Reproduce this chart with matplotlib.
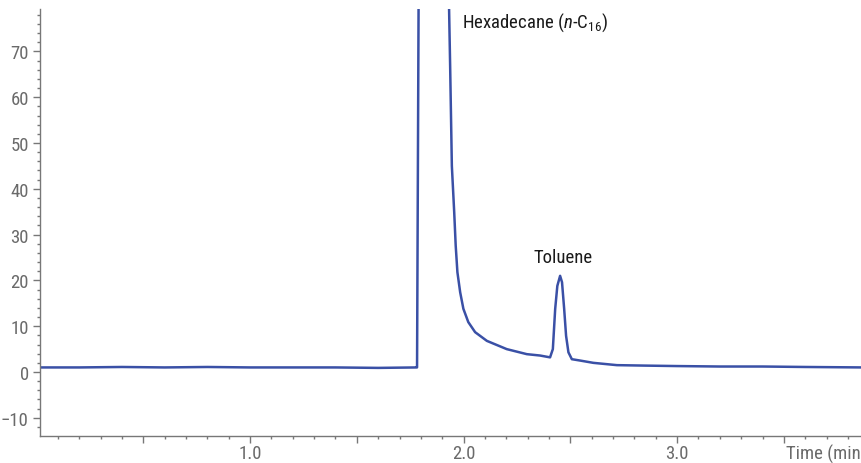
"""
GC chromatogram: hexadecane and toluene
"""

import os
import matplotlib
matplotlib.use('Agg')
import matplotlib.pyplot as plt
from matplotlib import font_manager
from matplotlib.ticker import FixedLocator, MultipleLocator

# values (time in min, response)
time = [0.02, 0.2, 0.4, 0.6, 0.8, 1.0, 1.2, 1.4, 1.6, 1.78,
        1.782, 1.80, 1.92, 1.932, 1.937, 1.945, 1.956, 1.963, 1.971,
        1.984, 1.999, 2.022, 2.054, 2.109, 2.202, 2.296, 2.358, 2.405, 2.418,
        2.429, 2.439, 2.452, 2.461, 2.471, 2.480, 2.491, 2.507, 2.546, 2.608,
        2.718, 2.85, 3.0, 3.2, 3.4, 3.6, 3.87]
signal = [1.0, 1.0, 1.1, 1.0, 1.1, 1.0, 1.0, 1.0, 0.9, 1.0,
          1.0, 200.0, 200.0, 79.3, 66.8, 45.0, 34.9, 27.6, 21.8,
          17.4, 13.8, 10.9, 8.7, 6.8, 5.0, 3.9, 3.6, 3.2, 5.0,
          13.8, 18.8, 21.0, 19.6, 13.8, 7.9, 4.3, 2.8, 2.5, 2.0,
          1.5, 1.4, 1.3, 1.2, 1.2, 1.1, 1.0]

y_ticks = [-10, 0, 10, 20, 30, 40, 50, 60, 70]
x_label_ticks = [1.0, 2.0, 3.0]
x_major = [0.5, 1.0, 1.5, 2.0, 2.5, 3.0, 3.5]

peak_names = ['Hexadecane ($\\it{n}$-C$_{16}$)', 'Toluene']
peak_pos = [(1.993, 76.5), (2.466, 25.1)]

# look for a narrow sans face (the original uses a condensed font)
wanted = ['LiberationSansNarrow-Regular', 'RobotoCondensed-Regular',
          'DejaVuSansCondensed.', 'OpenSans_Condensed-Regular',
          'NotoSans-CondensedRegular']
fam, stretch = 'Liberation Sans', 'normal'
found = False
for w in wanted:
    for f in font_manager.fontManager.ttflist:
        if os.path.basename(f.fname).startswith(w):
            fam, stretch = f.name, f.stretch
            found = True
            break
    if found:
        break

plt.rcParams['font.family'] = [fam, 'DejaVu Sans']
plt.rcParams['font.stretch'] = stretch
plt.rcParams['mathtext.fontset'] = 'custom'
plt.rcParams['mathtext.rm'] = '%s:stretch=%s' % (fam, stretch)
plt.rcParams['mathtext.it'] = '%s:style=italic:stretch=%s' % (fam, stretch)
fs = 13.5 if found else 12

grey = '#777777'
blue = '#3a50a6'

fig = plt.figure(figsize=(8.62, 4.64), dpi=100)
ax = fig.add_axes([40 / 862, 1 - 437 / 464, 1 - 40 / 862, (437 - 10) / 464])

ax.plot(time, signal, color=blue, linewidth=1.8, solid_joinstyle='round')

ax.set_xlim(0.016, 3.866)
ax.set_ylim(-13.97, 79.26)

for side in ['top', 'right']:
    ax.spines[side].set_visible(False)
for side in ['left', 'bottom']:
    ax.spines[side].set_color(grey)
    ax.spines[side].set_linewidth(1.0)

ax.yaxis.set_major_locator(FixedLocator(y_ticks))
ax.yaxis.set_minor_locator(MultipleLocator(2))
ax.xaxis.set_major_locator(FixedLocator(x_major))
ax.xaxis.set_minor_locator(MultipleLocator(0.1))
ax.set_xticklabels(['%.1f' % v if v in x_label_ticks else '' for v in x_major])

ax.tick_params(axis='both', which='major', color=grey, labelcolor='#6a6a6a',
               labelsize=fs, length=5, width=1)
ax.tick_params(axis='both', which='minor', color=grey, length=2.5, width=1)
ax.tick_params(axis='y', pad=3)
ax.tick_params(axis='x', pad=1)

ax.text(peak_pos[0][0], peak_pos[0][1], peak_names[0], fontsize=fs,
        color='#1a1a1a', ha='left', va='center')
ax.text(peak_pos[1][0], peak_pos[1][1], peak_names[1], fontsize=fs,
        color='#1a1a1a', ha='center', va='center')

# axis title sits at the lower right and runs off the edge, as in the original
fig.text(786 / 862, 1 - 454 / 464, 'Time (min)', fontsize=fs, color='#6a6a6a',
         ha='left', va='center')

fig.savefig('out.png', dpi=100)
